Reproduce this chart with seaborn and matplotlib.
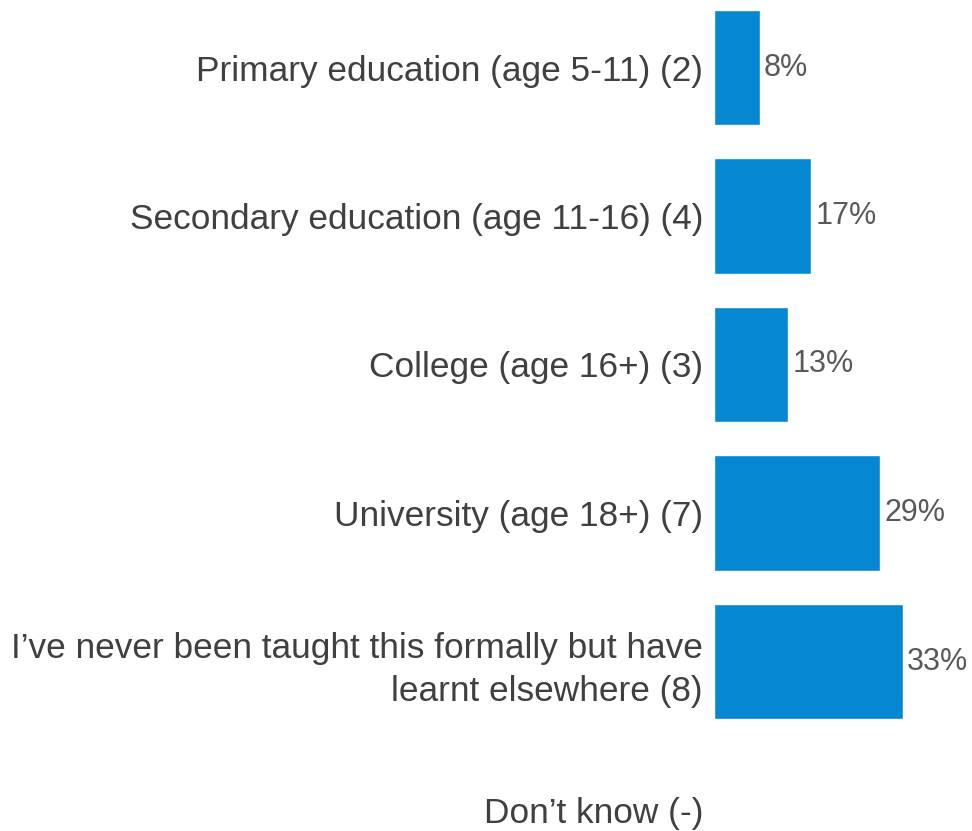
# Horizontal bar chart: where respondents were taught

import pandas as pd
import matplotlib
matplotlib.use('Agg')
import matplotlib.pyplot as plt
import seaborn as sns

# data
categories = [
    'Primary education (age 5-11) (2)',
    'Secondary education (age 11-16) (4)',
    'College (age 16+) (3)',
    'University (age 18+) (7)',
    'I\u2019ve never been taught this formally but have\nlearnt elsewhere (8)',
    'Don\u2019t know (-)',
]
answered = categories[:5]
percents = [8, 17, 13, 29, 33]

df = pd.DataFrame({'category': answered, 'pct': percents})

sns.set_style('white')
plt.rcParams['font.family'] = ['Liberation Sans', 'DejaVu Sans']

fig = plt.figure(figsize=(9.72, 8.31), dpi=100)
ax = fig.add_axes([714 / 972, 0, 246 / 972, 1])

sns.barplot(data=df, x='pct', y='category', order=categories, orient='h',
            color='#0588D1', saturation=1, width=0.775, ax=ax)

ax.bar_label(ax.containers[0], labels=[f'{p}%' for p in percents],
             padding=3, fontsize=22, color='#595959')

ax.set_xlim(0, 43)
ax.set_ylim(5 + 21 / 148.5, -67.5 / 148.5)
ax.set_xlabel('')
ax.set_ylabel('')
ax.set_xticks([])
ax.tick_params(axis='y', length=0, pad=8, labelsize=25.4, labelcolor='#404040')
for lbl in ax.get_yticklabels():
    lbl.set_linespacing(1.4)
sns.despine(ax=ax, left=True, bottom=True)

fig.savefig('out.png', dpi=100)
